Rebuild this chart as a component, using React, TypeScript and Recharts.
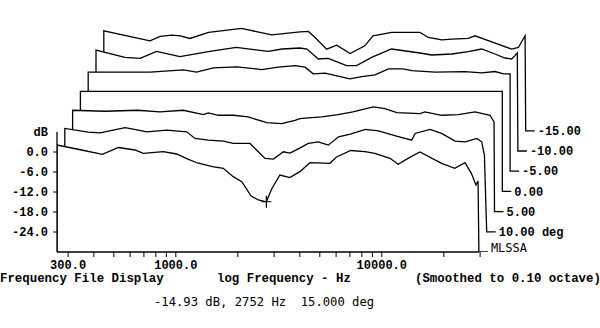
import {
  ComposedChart,
  Area,
  XAxis,
  YAxis,
  ReferenceLine,
  ReferenceDot,
} from "recharts";

// off-axis responses, [Hz, dB], front (15 deg) to back (-15 deg)
const deg15: [number, number][] = [
  [265, 2.1], [349, 0.6], [440, -0.7], [526, 1.35], [634, 0.6], [695, -0.4],
  [870, 0.1], [1010, -0.6], [1130, -2.0], [1274, -3.3], [1506, -4.4], [1700, -4.9],
  [1900, -7.4], [2090, -8.9], [2320, -13.2], [2515, -14.4], [2752, -14.93], [2920, -11.1],
  [3200, -6.9], [3580, -7.7], [4000, -5.9], [4480, -3.2], [5600, -3.4], [6030, -1.5],
  [7070, 0.45], [8280, 0.1], [9250, -0.4], [10960, -1.9], [12000, -3.7], [13400, -1.9],
  [15300, 0], [19520, -3.4], [22600, -4.9], [25350, -3.2], [27200, -6.4], [28650, -9.9],
  [29320, -8.7],
];
const deg10: [number, number][] = [
  [265, 1.0], [345, -0.1], [393, -0.3], [520, 1.25], [603, 0.5], [662, 0],
  [828, 0.5], [1035, 0], [1136, -2.0], [1318, -2.5], [1560, -2.8], [1740, -3.5],
  [2100, -3.5], [2485, -8.0], [2730, -8.2], [3050, -6.0], [3285, -6.4], [3680, -4.8],
  [4030, -3.5], [4500, -3.0], [5040, -4.0], [5650, -1.5], [6450, -0.7], [7630, 0.7],
  [8830, 0.3], [10700, -1.2], [12800, -2.5], [13300, -0.5], [15700, 0.7], [17870, -0.5],
  [20780, -2.8], [23300, -3.0], [26500, -2.0], [28000, -3.0], [28850, -7.0],
];
const deg5: [number, number][] = [
  [265, 0.4], [380, 0.1], [548, 0.4], [704, -0.1], [913, 0.4], [1143, -0.9],
  [1208, -0.4], [1351, -1.1], [1598, -1.1], [1885, -1.6], [2320, -3.3], [2745, -3.6],
  [3180, -2.6], [3370, -2.1], [3690, -1.9], [4290, -1.6], [5150, -0.9], [6080, -0.1],
  [7640, 1.4], [8700, 0.9], [9930, -0.3], [12870, -0.6], [13600, -0.1], [16400, -1.1],
  [19770, -0.9], [23800, -0.1], [28150, -1.1], [29450, -3.1],
];
const deg0: [number, number][] = [
  [265, 0], [29600, 0],
];
const degM5: [number, number][] = [
  [265, -0.3], [530, -0.3], [768, 0.4], [890, -0.3], [1073, 1.0], [1394, 1.3],
  [1843, 0.5], [2220, 1.2], [2680, 1.7], [2990, 1.2], [3280, -0.8], [3740, -0.6],
  [4940, -2.3], [5640, -1.6], [6540, -1.1], [7600, 0.7], [8950, 0.7], [9850, 0.2],
  [12800, -0.3], [17870, -0.1], [21560, -0.5], [25000, -0.1], [27500, -0.8], [29600, -0.8],
];
const degM10: [number, number][] = [
  [265, 0.3], [366, -1.9], [434, -2.2], [522, -0.1], [677, -1.7], [947, -0.1],
  [1270, 1.1], [1818, -0.1], [2120, 0.6], [2595, 0.9], [2800, 0.6], [3180, -2.4],
  [3555, -2.2], [4360, -4.4], [4880, -4.4], [5770, -1.9], [7200, 0.6], [9900, -0.6],
  [11300, -1.2], [14140, -0.9], [17000, -0.2], [19770, 0.6], [22900, -0.9], [25600, -2.1],
  [27600, -2.4], [28650, -1.4], [29400, -0.6],
];
const degM15: [number, number][] = [
  [265, 0], [444, -3.0], [497, -1.7], [568, -1.3], [623, -1.5], [694, -2.3],
  [855, -0.5], [1236, 0.7], [1731, -1.2], [2375, -0.3], [2610, -0.2], [2810, -2.0],
  [3200, -5.5], [3580, -4.3], [4160, -6.8], [4900, -4.5], [5370, -1.5], [6620, -0.5],
  [9080, -0.5], [9970, -2.0], [11580, -2.7], [12950, -2.5], [15580, -2.3], [16800, -1.5],
  [20250, -3.3], [25320, -5.5], [27270, -5.0], [29400, -1.5],
];

const traceLabels = ["MLSSA", "10.00 deg", "5.00", "0.00", "-5.00", "-10.00", "-15.00"];
const freqTicks = [
  300, 400, 500, 600, 700, 800, 900, 1000, 2000, 3000, 4000, 5000, 6000, 7000, 8000,
  9000, 10000, 20000, 30000,
];
const freqLabels = [300, 1000, 10000];
const dbTicks = [0, -6, -12, -18, -24];
const cursor = { freq: 2752, db: -14.93 };

const traces = [deg15, deg10, deg5, deg0, degM5, degM10, degM15];

// waterfall geometry
const PX_DEC = 206;
const PLOT_W = 488;
const X_MIN = Math.log10(265);
const X_MAX = X_MIN + PLOT_W / PX_DEC;
const Y_MIN = -30;
const Y_MAX = -30 + (242 * 36) / 120;
const DX = 7.8 / PX_DEC;
const DY = 6.06;
const F_END = 29600;
const TICK = 9 / PX_DEC;

const mono = "'Liberation Mono', 'DejaVu Sans Mono', monospace";
const dejavu = "'DejaVu Sans Mono', monospace";

const buildTrace = (pts: [number, number][], k: number) => {
  const floor = Y_MIN + k * DY;
  const sh = k * DX;
  const end = Math.log10(F_END) + sh;
  return [
    { lx: Math.log10(pts[0][0]) + sh, y: floor },
    ...pts.map(([f, d]) => ({ lx: Math.log10(f) + sh, y: d + k * DY })),
    { lx: end, y: floor },
    { lx: end + TICK, y: floor },
  ];
};

const Plus = (p: any) => (
  <path
    d={`M${p.cx - 5},${p.cy}h10M${p.cx},${p.cy - 6}v12`}
    stroke="#000"
    strokeWidth={1.2}
    fill="none"
  />
);

export default function App() {
  const order = traces.map((_, k) => k).reverse();
  return (
    <div
      style={{
        position: "absolute",
        left: 0,
        top: 0,
        width: 600,
        height: 328,
        background: "#fff",
      }}
    >
      <ComposedChart
        width={600}
        height={328}
        margin={{ top: 10, right: 600 - 57 - PLOT_W, bottom: 0, left: 0 }}
      >
        <XAxis
          dataKey="lx"
          type="number"
          domain={[X_MIN, X_MAX]}
          allowDataOverflow
          ticks={freqTicks.map((f) => Math.log10(f))}
          interval={0}
          axisLine={false}
          tickSize={5}
          tickMargin={3}
          height={76}
          tickLine={{ stroke: "#000" }}
          tick={{ fill: "#000", fontSize: 12, fontFamily: mono, fontWeight: 700 }}
          tickFormatter={(v: number) => {
            const f = Math.round(Math.pow(10, v));
            return freqLabels.includes(f) ? `${f}.0` : "";
          }}
        />
        <YAxis
          type="number"
          domain={[Y_MIN, Y_MAX]}
          allowDataOverflow
          ticks={dbTicks}
          interval={0}
          axisLine={false}
          width={57}
          tickSize={4}
          tickMargin={5}
          tickLine={{ stroke: "#000" }}
          tick={{ fill: "#000", fontSize: 12, fontFamily: mono, fontWeight: 700 }}
          tickFormatter={(v: number) => v.toFixed(1)}
        />
        {order.map((k) => (
          <Area
            key={k}
            data={buildTrace(traces[k], k)}
            dataKey="y"
            type="linear"
            baseValue={Y_MIN + k * DY}
            stroke="#000"
            strokeWidth={1.3}
            fill="#fff"
            fillOpacity={1}
            dot={false}
            activeDot={false}
            isAnimationActive={false}
          />
        ))}
        <ReferenceLine
          segment={[
            { x: X_MIN, y: Y_MIN },
            { x: X_MIN, y: 6 },
          ]}
          stroke="#000"
          strokeWidth={1.3}
        />
        <ReferenceLine
          segment={[
            { x: X_MIN, y: Y_MIN },
            { x: Math.log10(F_END), y: Y_MIN },
          ]}
          stroke="#000"
          strokeWidth={1.3}
        />
        {traceLabels.map((t, k) => (
          <ReferenceDot
            key={t}
            x={Math.log10(F_END) + k * DX + TICK}
            y={Y_MIN + k * DY}
            r={0}
            fill="none"
            stroke="none"
            ifOverflow="visible"
            label={{
              value: t,
              position: "right",
              offset: 3,
              fill: "#000",
              fontSize: 12,
              fontFamily: k === 0 ? dejavu : mono,
              fontWeight: k === 0 ? 400 : 700,
              dy: k === 0 ? -4 : 0,
            }}
          />
        ))}
        <ReferenceDot
          x={X_MIN}
          y={6}
          r={0}
          fill="none"
          stroke="none"
          ifOverflow="visible"
          label={{
            value: "dB",
            position: "left",
            offset: 9,
            fill: "#000",
            fontSize: 12,
            fontFamily: mono,
            fontWeight: 700,
          }}
        />
        <ReferenceDot
          x={Math.log10(cursor.freq)}
          y={cursor.db}
          r={6}
          shape={Plus}
        />
      </ComposedChart>
      <div
        style={{
          position: "absolute",
          left: 0,
          top: 272,
          width: 600,
          height: 14,
          lineHeight: "14px",
          fontFamily: mono,
          fontWeight: 700,
          fontSize: 12.4,
          whiteSpace: "pre",
          color: "#000",
        }}
      >
        <span style={{ position: "absolute", left: 0 }}>Frequency File Display</span>
        <span style={{ position: "absolute", left: 217 }}>log Frequency - Hz</span>
        <span style={{ position: "absolute", left: 415 }}>(Smoothed to 0.10 octave)</span>
      </div>
      <div
        style={{
          position: "absolute",
          left: 154,
          top: 295,
          lineHeight: "14px",
          fontFamily: dejavu,
          fontSize: 12.2,
          whiteSpace: "pre",
          color: "#000",
        }}
      >
        {`${cursor.db.toFixed(2)} dB, ${cursor.freq} Hz  15.000 deg`}
      </div>
    </div>
  );
}
